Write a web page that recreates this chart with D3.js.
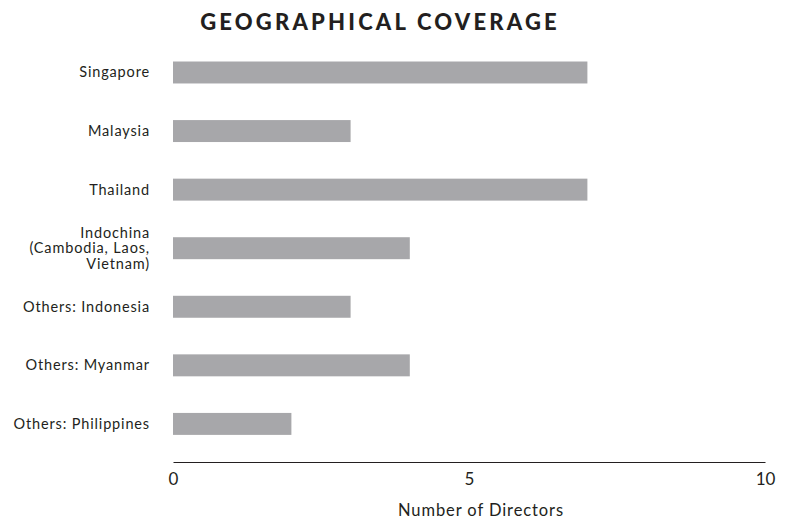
<!DOCTYPE html>
<html><head><meta charset="utf-8">
<script src="https://cdn.jsdelivr.net/npm/d3@7"></script>
<style>body{margin:0;background:#fff}svg{display:block}</style>
</head><body>
<svg id="c" width="785" height="520"></svg>
<script>
const categories = ["Singapore","Malaysia","Thailand","Indochina\n(Cambodia, Laos,\nVietnam)","Others: Indonesia","Others: Myanmar","Others: Philippines"];
const values = [7,3,7,4,3,4,2];
const tickValues = [0,5,10];
const title = "GEOGRAPHICAL COVERAGE";
const xTitle = "Number of Directors";

const svg = d3.select("#c");
const font = "Lato, 'Noto Sans', sans-serif";
const x = d3.scaleLinear().domain([0,10]).range([173,765]);
const y = d3.scaleBand().domain(categories).range([43.2,453.2]).paddingInner(0.625).paddingOuter(0.3125);

svg.append("text").attr("x",380).attr("y",30).attr("text-anchor","middle")
  .attr("font-family",font).attr("font-weight",900).attr("font-size",22)
  .attr("letter-spacing",3.2).attr("fill","#231f20").text(title);

svg.selectAll("rect.bar").data(values).enter().append("rect").attr("class","bar")
  .attr("x",x(0)).attr("y",(d,i)=>y(categories[i]))
  .attr("width",d=>x(d)-x(0)).attr("height",y.bandwidth()).attr("fill","#a7a7aa");

const lab = svg.append("g");
categories.forEach(c=>{
  const lines = c.split("\n");
  const cy = y(c)+y.bandwidth()/2;
  const lh = 15.5;
  const t = lab.append("text").attr("text-anchor","end").attr("font-family",font)
    .attr("font-size",14.5).attr("letter-spacing",0.85).attr("fill","#231f20");
  lines.forEach((l,k)=>{
    t.append("tspan").attr("x",150).attr("y",cy+5+(k-(lines.length-1)/2)*lh).text(l);
  });
});

const ax = svg.append("g").attr("transform","translate(0,462)")
  .call(d3.axisBottom(x).tickValues(tickValues).tickSize(0).tickPadding(11));
ax.select(".domain").attr("stroke","#231f20").attr("stroke-width",1.2);
ax.selectAll("text").attr("font-family",font).attr("font-weight",400).attr("font-size",17).attr("fill","#231f20");

svg.append("text").attr("x",481).attr("y",516).attr("text-anchor","middle")
  .attr("font-family",font).attr("font-size",16.5).attr("letter-spacing",0.9).attr("fill","#231f20").text(xTitle);
</script>
</body></html>
